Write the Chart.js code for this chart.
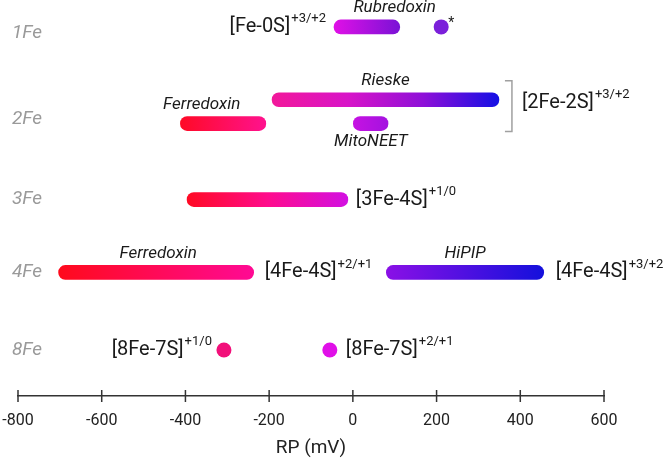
<!DOCTYPE html>
<html><head><meta charset="utf-8">
<script src="https://cdn.jsdelivr.net/npm/chart.js@4/dist/chart.umd.min.js"></script>
<style>html,body{margin:0;padding:0;background:#fff;}#wrap{width:666px;height:462px;position:relative;}</style>
</head><body><div id="wrap"><canvas id="c"></canvas></div>
<script>
// ---------- data ----------
const rowLabels = ['1Fe', '2Fe', '3Fe', '4Fe', '8Fe'];
const tickValues = [-800, -600, -400, -200, 0, 200, 400, 600];
const axisTitle = 'RP (mV)';

// range bars (mV)
const barNames    = ['Rubredoxin', 'Rieske', 'Ferredoxin', 'MitoNEET', '', 'Ferredoxin', 'HiPIP'];
const barRows     = [0, 1, 1, 1, 2, 3, 3];
const barStart    = [-45, -193, -412, 0, -396, -703, 80];
const barEnd      = [112, 349, -208, 84, -12, -237, 456];
const barClusters = ['[Fe-0S]', '[2Fe-2S]', '[2Fe-2S]', '[2Fe-2S]', '[3Fe-4S]', '[4Fe-4S]', '[4Fe-4S]'];
const barCharges  = ['+3/+2', '+3/+2', '+3/+2', '+3/+2', '+1/0', '+2/+1', '+3/+2'];

// single-value points (mV)
const pointRows     = [0, 4, 4];
const pointValues   = [211, -308, -55];
const pointClusters = ['', '[8Fe-7S]', '[8Fe-7S]'];
const pointCharges  = ['', '+1/0', '+2/+1'];

// ---------- styles / layout ----------
const barStops = [
  ['#e010e6', '#7a12d6'],
  ['#f2189a', '#d814c8', '#8e10d8', '#1410e4'],
  ['#ff0a26', '#ff128e'],
  ['#c612e2', '#a412e0'],
  ['#ff0a24', '#ff0c8c', '#d210e2'],
  ['#ff0a1c', '#ff0a94'],
  ['#8a10e6', '#1410dc']
];
const pointColors = ['#7b20da', '#f2107a', '#e010e8'];
const rowLane   = [1, 2.08, 3.1, 4.02, 5];
const barShift  = [-0.08, -0.24, 0.06, 0.06, 0, 0, 0];
const pointShift = [-0.08, 0, 0];
const barLabelSide = ['left', 'bracket', 'bracket', 'bracket', 'right', 'right', 'right'];
const barLabelGap  = [8, 0, 0, 0, 8, 11, 12];
const nameAt  = [100, 78, -361, 43, 0, -465, 268];   // mV centre of italic name
const nameBelow = [false, false, false, true, false, false, false];
const pointLabelSide = ['star', 'left', 'right'];
const FONT = 'Roboto, "Liberation Sans", sans-serif';

const barData = barStart.map((s, i) => ({ x: [s, barEnd[i]], y: rowLane[barRows[i]] + barShift[i] }));
const pointData = pointValues.map((v, i) => ({ x: v, y: rowLane[pointRows[i]] + pointShift[i] }));

function drawCluster(ctx, x, y, main, sup, align) {
  ctx.save();
  ctx.fillStyle = '#1a1a1a';
  ctx.textBaseline = 'middle';
  ctx.font = '20px ' + FONT;
  const wm = ctx.measureText(main).width;
  ctx.font = '13px ' + FONT;
  const ws = ctx.measureText(sup).width;
  const total = wm + 1 + ws;
  const x0 = align === 'right' ? x - total : x;
  ctx.textAlign = 'left';
  ctx.font = '20px ' + FONT;
  ctx.fillText(main, x0, y);
  ctx.font = '13px ' + FONT;
  ctx.fillText(sup, x0 + wm + 1, y - 8);
  ctx.restore();
}

const annot = {
  id: 'annot',
  afterDatasetsDraw(chart) {
    const { ctx, scales: { x, y } } = chart;
    ctx.save();
    // row labels
    ctx.font = 'italic 19px ' + FONT;
    ctx.fillStyle = '#9a9a9a';
    ctx.textBaseline = 'middle';
    ctx.textAlign = 'left';
    rowLabels.forEach((r, i) => ctx.fillText(r, 12, y.getPixelForValue(rowLane[i])));
    // italic names
    ctx.font = 'italic 17px ' + FONT;
    ctx.fillStyle = '#1a1a1a';
    ctx.textAlign = 'center';
    barNames.forEach((n, i) => {
      if (!n) return;
      const yc = y.getPixelForValue(barData[i].y);
      ctx.fillText(n, x.getPixelForValue(nameAt[i]), nameBelow[i] ? yc + 18 : yc - 19);
    });
    // cluster labels for bars
    let bracketDone = false;
    barClusters.forEach((c, i) => {
      const yc = y.getPixelForValue(barData[i].y);
      if (barLabelSide[i] === 'left') {
        drawCluster(ctx, x.getPixelForValue(barStart[i]) - barLabelGap[i], yc, c, barCharges[i], 'right');
      } else if (barLabelSide[i] === 'right') {
        drawCluster(ctx, x.getPixelForValue(barEnd[i]) + barLabelGap[i], yc, c, barCharges[i], 'left');
      } else if (!bracketDone) {
        bracketDone = true;
        const idx = barLabelSide.map((s, k) => s === 'bracket' ? k : -1).filter(k => k >= 0);
        const xr = Math.max(...idx.map(k => x.getPixelForValue(barEnd[k]))) + 13;
        const ys = idx.map(k => y.getPixelForValue(barData[k].y));
        const yt = Math.min(...ys) - 19, yb = Math.max(...ys) + 8;
        ctx.strokeStyle = '#a0a0a0';
        ctx.lineWidth = 1.5;
        ctx.beginPath();
        ctx.moveTo(xr - 7, yt); ctx.lineTo(xr, yt); ctx.lineTo(xr, yb); ctx.lineTo(xr - 7, yb);
        ctx.stroke();
        drawCluster(ctx, xr + 10, Math.min(...ys) + 3, c, barCharges[i], 'left');
      }
    });
    // point labels
    pointValues.forEach((v, i) => {
      const px = x.getPixelForValue(v), py = y.getPixelForValue(pointData[i].y);
      if (pointLabelSide[i] === 'star') {
        ctx.font = '14px ' + FONT; ctx.fillStyle = '#1a1a1a'; ctx.textAlign = 'left'; ctx.textBaseline = 'middle';
        ctx.fillText('*', px + 7, py - 3);
      } else if (pointLabelSide[i] === 'left') {
        drawCluster(ctx, px - 12, py, pointClusters[i], pointCharges[i], 'right');
      } else {
        drawCluster(ctx, px + 16, py, pointClusters[i], pointCharges[i], 'left');
      }
    });
    // axis ticks crossing the axis line
    ctx.strokeStyle = '#333';
    ctx.lineWidth = 1.5;
    const yb = chart.chartArea.bottom;
    tickValues.forEach(t => {
      const tx = x.getPixelForValue(t);
      ctx.beginPath(); ctx.moveTo(tx, yb - 6); ctx.lineTo(tx, yb + 6); ctx.stroke();
    });
    ctx.restore();
  }
};

new Chart(document.getElementById('c'), {
  type: 'bar',
  data: {
    datasets: [
      {
        type: 'bar',
        data: barData,
        barThickness: 14,
        borderRadius: 7,
        borderSkipped: false,
        borderWidth: 0,
        backgroundColor: (c) => {
          const chart = c.chart, xs = chart.scales.x;
          const i = c.dataIndex;
          if (c.type !== 'data' || !xs) return barStops[0][0];
          const x0 = xs.getPixelForValue(barStart[i]), x1 = xs.getPixelForValue(barEnd[i]);
          if (!isFinite(x0) || !isFinite(x1) || x0 === x1) return barStops[i][0];
          const g = chart.ctx.createLinearGradient(x0, 0, x1, 0);
          barStops[i].forEach((col, k, a) => g.addColorStop(k / (a.length - 1), col));
          return g;
        }
      },
      {
        type: 'scatter',
        data: pointData,
        pointRadius: 7.5,
        pointHoverRadius: 7.5,
        pointBorderWidth: 0,
        pointBackgroundColor: pointColors,
        showLine: false
      }
    ]
  },
  options: {
    indexAxis: 'y',
    responsive: true,
    maintainAspectRatio: false,
    animation: false,
    layout: { autoPadding: false, padding: { left: 18, right: 62, top: 0, bottom: 0 } },
    plugins: { legend: { display: false }, tooltip: { enabled: false } },
    scales: {
      y: { type: 'linear', display: false, reverse: true, offset: false, min: 0.58, max: 5.58 },
      x: {
        type: 'linear', min: -800, max: 600, offset: false,
        afterBuildTicks: (s) => { s.ticks = tickValues.map(v => ({ value: v })); },
        afterFit: (s) => { s.height = 66; s.paddingLeft = 0; s.paddingRight = 0; },
        grid: { display: true, drawOnChartArea: false, drawTicks: true, tickLength: 6, color: 'rgba(0,0,0,0)' },
        border: { display: true, color: '#333', width: 1.5 },
        ticks: { font: { family: FONT, size: 16 }, color: '#222', padding: 9, maxRotation: 0 },
        title: { display: true, text: axisTitle, font: { family: FONT, size: 19 }, color: '#222', padding: { top: 0, bottom: 2 } }
      }
    }
  },
  plugins: [annot]
});
</script></body></html>
